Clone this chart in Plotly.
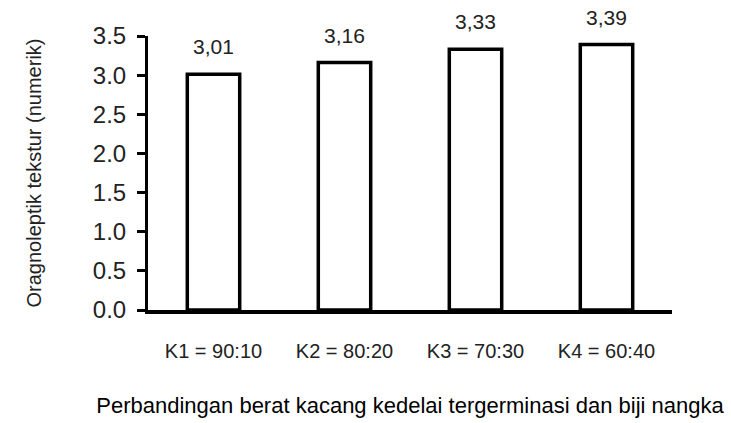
import plotly.graph_objects as go

categories = ["K1 = 90:10", "K2 = 80:20", "K3 = 70:30", "K4 = 60:40"]
texture = [3.01, 3.16, 3.33, 3.39]
y_ticks = [0.0, 0.5, 1.0, 1.5, 2.0, 2.5, 3.0, 3.5]

font_family = "Liberation Sans, Arial, sans-serif"
text_color = "#222222"

fig = go.Figure()
fig.add_trace(go.Bar(
    x=categories,
    y=texture,
    marker=dict(color="white", line=dict(color="black", width=3.5)),
    width=0.4,
))

for cat, val in zip(categories, texture):
    fig.add_annotation(
        x=cat, y=val, text=f"{val:.2f}".replace(".", ","),
        showarrow=False, yanchor="bottom", yshift=14,
        font=dict(family=font_family, size=21, color=text_color),
    )

fig.update_layout(
    width=731, height=423,
    margin=dict(l=148, r=59, t=36, b=113),
    paper_bgcolor="white", plot_bgcolor="white",
    showlegend=False,
    font=dict(family=font_family, color=text_color),
)

fig.update_xaxes(
    automargin=False,
    showline=True, linecolor="black", linewidth=4,
    ticks="", showgrid=False,
    tickfont=dict(size=20, color=text_color),
    ticklabelstandoff=20,
    title=dict(text="Perbandingan berat kacang kedelai tergerminasi dan biji nangka",
               font=dict(size=22, color="black"), standoff=38),
)

fig.update_yaxes(
    automargin=False,
    range=[0, 3.5], tickvals=y_ticks,
    ticktext=[f"{v:.1f}" for v in y_ticks],
    showline=True, linecolor="black", linewidth=3,
    ticks="outside", ticklen=8, tickwidth=3, tickcolor="black",
    showgrid=False, zeroline=False,
    tickfont=dict(size=24, color=text_color),
    ticklabelstandoff=6,
    title=dict(text="Oragnoleptik tekstur (numerik)",
               font=dict(size=20, color=text_color), standoff=46),
)

fig.write_html("out.html")
